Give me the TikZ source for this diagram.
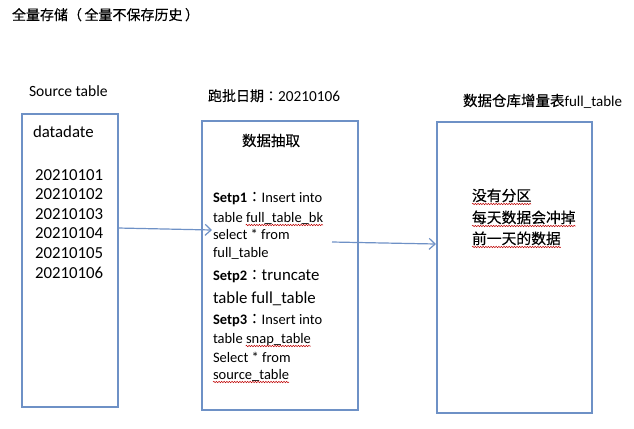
\documentclass[tikz,border=0pt]{standalone}
\usepackage{fontspec}
\setmainfont{Carlito}
\newfontfamily\cjk{Noto Sans CJK SC}[FakeBold=0.25]
\newfontfamily\cjkp{Noto Sans CJK TC}[FakeBold=0.25]
\usetikzlibrary{arrows.meta,decorations.pathmorphing}
\definecolor{boxblue}{RGB}{110,145,198}
\begin{document}
\begin{tikzpicture}[x=1bp,y=-1bp,
  box/.style={draw=boxblue,line width=1.4bp,inner sep=0,rectangle},
  lbl/.style={anchor=base west,inner sep=0,outer sep=0},
  fA/.style={font=\fontsize{14.5bp}{17bp}\selectfont},
  fL/.style={font=\fontsize{16.8bp}{19bp}\selectfont},
  fC/.style={font=\cjk\fontsize{14.5bp}{17bp}\selectfont},
  link/.style={draw=boxblue,line width=1.2bp,-{Straight Barb[length=6bp,width=11bp,line width=1.2bp]}},
  squig/.style={draw=red!75!black,line width=0.5bp,decorate,decoration={snake,amplitude=0.7bp,segment length=2.6bp}}]
\useasboundingbox (0,0) rectangle (634,428);

% boxes
\node[box,minimum width=96bp,minimum height=293bp] (src) at (70,260.5) {};
\node[box,minimum width=156bp,minimum height=289bp] (etl) at (280,265.5) {};
\node[box,minimum width=155bp,minimum height=291bp] (dw) at (514.5,267.5) {};

% headings
\node[lbl,font=\cjk\fontsize{14bp}{17bp}\selectfont] (title) at (12,20) {全量存储{\cjkp （}\hspace{2.5bp}全量不保存历史\hspace{2.5bp}{\cjkp ）}};
\node[lbl,font=\fontsize{15.6bp}{18bp}\selectfont] (srclbl) at (29,96) {Source table};
\node[lbl,font=\fontsize{15.3bp}{18bp}\selectfont] (runlbl) at (208,101) {{\cjk\fontsize{14bp}{17bp}\selectfont 跑批日期{\cjkp ：}}20210106};
\node[lbl,font=\fontsize{15bp}{18bp}\selectfont] (dwlbl) at (463,106) {{\cjk\fontsize{14.5bp}{17bp}\selectfont 数据仓库增量表}full\_table};

% source table content
\node[lbl,fL] (dd) at (33,137) {datadate};
\foreach \d [count=\i from 0] in {20210101,20210102,20210103,20210104,20210105,20210106}
  \node[lbl,fL] (d\i) at (35,180+19.6*\i) {\d};

% extraction content
\node[lbl,fC] (etlt) at (242,146) {数据抽取};
\node[lbl,fA] (s1) at (213,202) {\textbf{Setp1}{\cjkp ：}Insert into};
\node[lbl,fA] (s2) at (213,222) {table full\_table\_bk};
\node[lbl,fA] (s3) at (213,239) {select * from};
\node[lbl,fA] (s4) at (213,257) {full\_table};
\node[lbl,fA] (s5) at (213,280) {\textbf{Setp2}{\cjkp ：}{\fontsize{16.8bp}{19bp}\selectfont truncate}};
\node[lbl,fL] (s6) at (213,303) {table full\_table};
\node[lbl,fA] (s7) at (213,324) {\textbf{Setp3}{\cjkp ：}Insert into};
\node[lbl,fA] (s8) at (213,343) {table snap\_table};
\node[lbl,fA] (s9) at (213,362) {Select * from};
\node[lbl,fA] (s10) at (213,379) {source\_table};

% warehouse content
\node[lbl,font=\cjk\fontsize{14.8bp}{17bp}\selectfont] (r1) at (472,201) {没有分区};
\node[lbl,font=\cjk\fontsize{14.8bp}{17bp}\selectfont] (r2) at (472,223) {每天数据会冲掉};
\node[lbl,font=\cjk\fontsize{14.8bp}{17bp}\selectfont] (r3) at (472,244) {前一天的数据};

% spell-check underlines
\node[anchor=base east,inner sep=0,fA] (u2) at (s2.base east) {\phantom{full\_table\_bk}};
\node[anchor=base east,inner sep=0,fA] (u8) at (s8.base east) {\phantom{snap\_table}};
\foreach \n in {u2,u8,s10,r1,r2,r3}
  \draw[squig] ([yshift=-3bp]\n.base west) -- ([yshift=-3bp]\n.base east);

% connectors
\coordinate (a1s) at (118,228);
\coordinate (a1e) at (212,230);
\coordinate (a2s) at (332,242);
\coordinate (a2e) at (436,244);
\draw[link] (a1s) -- (a1e);
\draw[link] (a2s) -- (a2e);
\end{tikzpicture}
\end{document}
